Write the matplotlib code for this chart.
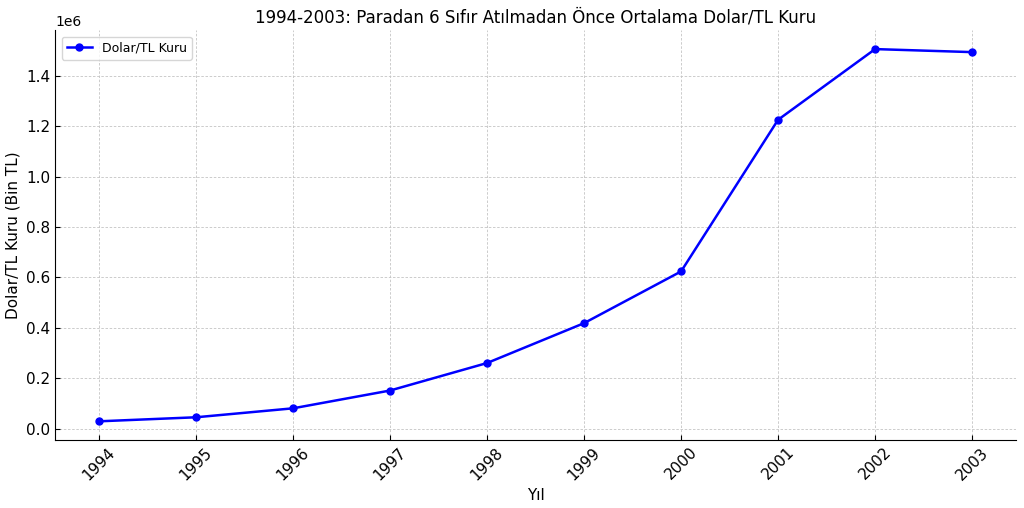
import matplotlib
matplotlib.use("Agg")
import matplotlib.pyplot as plt

years = ["1994", "1995", "1996", "1997", "1998", "1999", "2000", "2001", "2002", "2003"]
rates = [30000, 46000, 81500, 152000, 261000, 419000, 624000, 1225000, 1505000, 1493000]

fig, ax = plt.subplots(figsize=(10.24, 5.08), dpi=100)
x = list(range(len(years)))
ax.plot(x, rates, marker="o", color="blue", linewidth=1.8, markersize=5, label="Dolar/TL Kuru")
ax.set_xticks(x)
ax.set_xticklabels(years, rotation=45)
ax.set_title("1994-2003: Paradan 6 Sıfır Atılmadan Önce Ortalama Dolar/TL Kuru", fontsize=12)
ax.set_xlabel("Yıl", fontsize=11)
ax.set_ylabel("Dolar/TL Kuru (Bin TL)", fontsize=11)
ax.grid(True, linestyle="--", color="#c4c4c4", linewidth=0.6, dashes=(3, 2))
ax.spines["top"].set_visible(False)
ax.spines["right"].set_visible(False)
ax.tick_params(labelsize=11, direction="in")
ax.legend(loc="upper left", fontsize=9)
fig.subplots_adjust(left=0.054, right=0.992, top=0.94, bottom=0.134)
fig.savefig("out.png", dpi=100)
